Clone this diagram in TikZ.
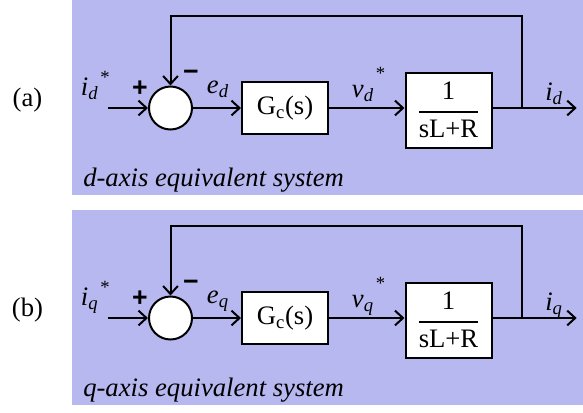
\documentclass[tikz,border=0pt]{standalone}
\usepackage{amsmath}
\usepackage{fontspec}
\setmainfont{Liberation Serif}
\newfontfamily\signfont{Liberation Sans}
\usetikzlibrary{arrows.meta}
\definecolor{panelbg}{RGB}{184,184,240}
\newcommand{\sigvar}[2]{\textit{#1}\textsubscript{\textit{#2}}}
\newcommand{\starmark}[1]{\hspace{1.5pt}\raisebox{#1}{\fontsize{14}{14}\selectfont *}}
\tikzset{
  wire/.style={line width=1.5pt},
  arr/.style={wire,-{Straight Barb[length=6pt,width=11pt]}},
  blk/.style={draw,line width=1.5pt,fill=white,inner sep=0pt,font=\fontsize{20}{24}\selectfont},
  sumnode/.style={circle,draw,line width=1.5pt,fill=white,minimum size=32.25pt,inner sep=0pt},
  lbl/.style={anchor=base west,inner sep=0pt,font=\fontsize{20}{24}\selectfont},
  sign/.style={anchor=center,inner sep=0pt,font=\signfont\bfseries\fontsize{20}{24}\selectfont},
}
\begin{document}
\begin{tikzpicture}[x=0.75pt,y=-0.75pt]
\useasboundingbox (0,0) rectangle (583,412);
\foreach \p/\dy/\ax in {a/0/d,b/210/q}{
  \fill[panelbg] (72,\dy) rectangle (583,{195+\dy});
  % labels
  \node[lbl,anchor=base] (lab\p) at (27.5,{106+\dy}) {(\p)};
  \node[lbl] (ref\p) at (80.7,{95+\dy}) {\sigvar{i}{\ax}\starmark{9pt}};
  \node[lbl] (err\p) at (206.7,{93+\dy}) {\sigvar{e}{\ax}};
  \node[lbl] (vref\p) at (351.7,{97+\dy}) {\sigvar{v}{\ax}\starmark{13pt}};
  \node[lbl] (outl\p) at (545,{100+\dy}) {\sigvar{i}{\ax}};
  \node[sign] (plus\p) at (140,{89+\dy}) {+};
  \node[sign] (minus\p) at (191,{75+\dy}) {\char"2212};
  \node[lbl] (cap\p) at (83,{186+\dy}) {\itshape \ax-axis equivalent system};
  % blocks
  \node[sumnode] (sum\p) at (170.5,{108+\dy}) {};
  \node[blk,minimum width=64.5pt,minimum height=39pt] (gc\p) at (285,{108+\dy}) {G\textsubscript{c}(s)};
  \node[blk,minimum width=64.5pt,minimum height=56.25pt] (pl\p) at (448.5,{110+\dy})
     {$\genfrac{}{}{1.5pt}{0}{\text{1}}{\text{sL+R}}$};
  % connectors
  \coordinate (in\p) at (108,{108+\dy});
  \coordinate (br\p) at (521.7,{108+\dy});
  \coordinate (out\p) at (576.7,{108+\dy});
  \coordinate (fb\p) at (521.7,{16+\dy});
  \draw[arr] (in\p) -- (sum\p.west);
  \draw[arr] (sum\p.east) -- (sum\p.east -| gc\p.west);
  \draw[arr] (gc\p.east) -- (gc\p.east -| pl\p.west);
  \draw[arr] (pl\p.east |- br\p) -- (out\p);
  \draw[arr] (br\p) -- (fb\p) -| (sum\p.north);
}
\end{tikzpicture}
\end{document}
